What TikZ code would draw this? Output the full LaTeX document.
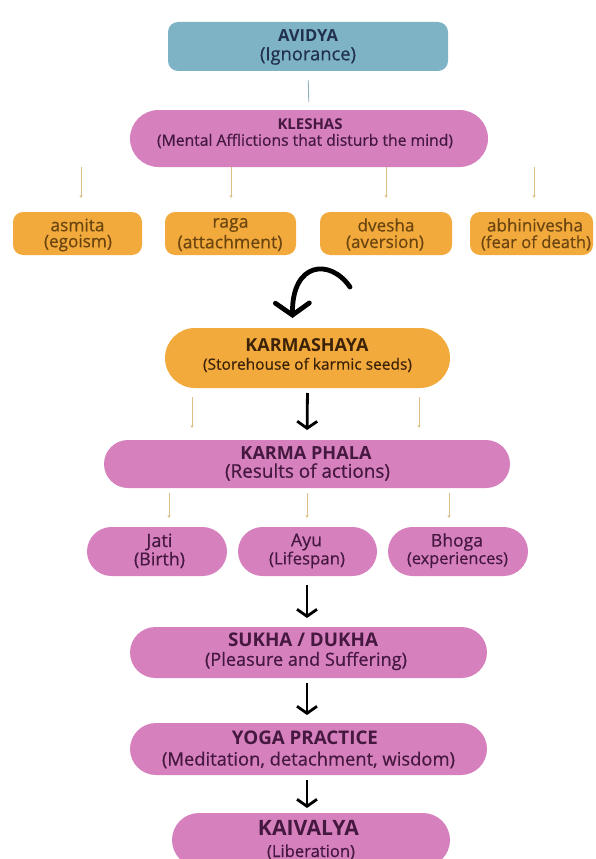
\documentclass[tikz,border=0pt]{standalone}
\usepackage{fontspec}
\setmainfont{Open Sans}
\newfontfamily\subf{Open Sans}[FakeBold=0.5]
\usetikzlibrary{arrows.meta,shapes.misc,calc}
\definecolor{tealbox}{HTML}{7DB3C5}
\definecolor{pinkbox}{HTML}{D681BE}
\definecolor{orangebox}{HTML}{F3AA3C}
\definecolor{navytxt}{HTML}{22304F}
\definecolor{purptxt}{HTML}{45183F}
\definecolor{browntxt}{HTML}{6A4510}
\definecolor{darkbrown}{HTML}{3B2208}
\definecolor{tanline}{HTML}{D9BF85}
\definecolor{blueline}{HTML}{8FB0BF}
\newcommand\fitto[2]{\resizebox{#1pt}{!}{#2}}
\begin{document}
\begin{tikzpicture}[x=1pt,y=-1pt,
  box/.style={draw=none, inner sep=0pt, outer sep=0pt},
  pill/.style={box, rounded rectangle, fill=pinkbox},
  rbox/.style={box, rectangle, rounded corners=10pt},
  lab/.style={inner sep=0pt, anchor=center},
  thinarr/.style={draw=tanline, line width=0.9pt, -{Stealth[length=3pt,width=3pt]}},
  bigarr/.style={draw=black, line width=2.8pt, -{Straight Barb[length=7pt,width=20pt]}},
]
\useasboundingbox (0,0) rectangle (595,859);
\clip (0,0) rectangle (595,859);

% boxes
\node[rbox, fill=tealbox, minimum width=280pt, minimum height=49pt] (av) at (308,46.5) {};
\node[pill, minimum width=358pt, minimum height=57pt] (kl) at (309,138.5) {};
\node[rbox, fill=orangebox, minimum width=129pt, minimum height=43pt] (as) at (77.5,233.5) {};
\node[rbox, fill=orangebox, minimum width=131pt, minimum height=43pt] (ra) at (230.5,233.5) {};
\node[rbox, fill=orangebox, minimum width=132pt, minimum height=43pt] (dv) at (386,233.5) {};
\node[rbox, fill=orangebox, minimum width=123pt, minimum height=43pt] (ab) at (531.5,233.5) {};
\node[pill, fill=orangebox, minimum width=285pt, minimum height=60pt] (ksh) at (307.5,358) {};
\node[pill, minimum width=406pt, minimum height=48pt] (kp) at (307,464) {};
\node[pill, minimum width=140pt, minimum height=49pt] (ja) at (157,551.5) {};
\node[pill, minimum width=139pt, minimum height=49pt] (ay) at (307.5,551.5) {};
\node[pill, minimum width=140pt, minimum height=49pt] (bh) at (458,551.5) {};
\node[pill, minimum width=357pt, minimum height=51pt] (su) at (308.5,652.5) {};
\node[pill, minimum width=357pt, minimum height=52pt] (yo) at (308.5,749) {};
\node[pill, minimum width=278pt, minimum height=54pt] (kv) at (311,840) {};

% texts
\node[lab, text=navytxt] (avT) at (308,36) {\fitto{60}{\bfseries AVIDYA}};
\node[lab, text=navytxt] (avS) at (308,56) {\fitto{96}{\subf (Ignorance)}};
\node[lab, text=purptxt] (klT) at (310,124) {\fitto{65}{\bfseries KLESHAS}};
\node[lab, text=purptxt] (klS) at (305,141) {\fitto{296}{\subf (Mental Afflictions that disturb the mind)}};
\node[lab, text=browntxt] (asT) at (77.5,225) {\fitto{54}{\subf asmita}};
\node[lab, text=browntxt] (asS) at (78,243) {\fitto{68}{\subf (egoism)}};
\node[lab, text=browntxt] (raT) at (230.5,225) {\fitto{36}{\subf raga}};
\node[lab, text=browntxt] (raS) at (230,243) {\fitto{105}{\subf (attachment)}};
\node[lab, text=browntxt] (dvT) at (386,225) {\fitto{57}{\subf dvesha}};
\node[lab, text=browntxt] (dvS) at (385,243) {\fitto{78}{\subf (aversion)}};
\node[lab, text=browntxt] (abT) at (535,225) {\fitto{96}{\subf abhinivesha}};
\node[lab, text=browntxt] (abS) at (536,243) {\fitto{110}{\subf (fear of death)}};
\node[lab, text=darkbrown] (kshT) at (307,345) {\fitto{123}{\bfseries KARMASHAYA}};
\node[lab, text=darkbrown] (kshS) at (307.5,365) {\fitto{209}{\subf (Storehouse of karmic seeds)}};
\node[lab, text=purptxt] (kpT) at (306,453) {\fitto{131}{\bfseries KARMA PHALA}};
\node[lab, text=purptxt] (kpS) at (307.5,472) {\fitto{165}{\subf (Results of actions)}};
\node[lab, text=purptxt] (jaT) at (159.5,542) {\fitto{26}{\subf Jati}};
\node[lab, text=purptxt] (jaS) at (159.5,560) {\fitto{51}{\subf (Birth)}};
\node[lab, text=purptxt] (ayT) at (306.5,542) {\fitto{31}{\subf Ayu}};
\node[lab, text=purptxt] (ayS) at (307,560) {\fitto{76}{\subf (Lifespan)}};
\node[lab, text=purptxt] (bhT) at (457,542) {\fitto{52}{\subf Bhoga}};
\node[lab, text=purptxt] (bhS) at (457.5,560) {\fitto{101}{\subf (experiences)}};
\node[lab, text=purptxt] (suT) at (303,640) {\fitto{150}{\bfseries SUKHA / DUKHA}};
\node[lab, text=purptxt] (suS) at (306,661) {\fitto{202}{\subf (Pleasure and Suffering)}};
\node[lab, text=purptxt] (yoT) at (305,738) {\fitto{146}{\bfseries YOGA PRACTICE}};
\node[lab, text=purptxt] (yoS) at (308.5,760) {\fitto{293}{\subf (Meditation, detachment, wisdom)}};
\node[lab, text=purptxt] (kvT) at (308.5,828) {\fitto{101}{\bfseries KAIVALYA}};
\node[lab, text=purptxt] (kvS) at (311,852) {\fitto{88}{\subf (Liberation)}};

% connector avidya -> kleshas
\draw[blueline, line width=0.9pt, shorten <=9pt, shorten >=8pt] (av.south) -- (kl.north);

% kleshas -> four afflictions
\coordinate (k1) at (81,0);
\coordinate (k2) at (231,0);
\coordinate (k3) at (386,0);
\coordinate (k4) at (534,0);
\draw[thinarr, shorten >=14pt] (kl.south -| k1) -- (as.north -| k1);
\draw[thinarr, shorten >=14pt] (kl.south -| k2) -- (ra.north -| k2);
\draw[thinarr, shorten >=14pt] (kl.south -| k3) -- (dv.north -| k3);
\draw[thinarr, shorten >=14pt] (kl.south -| k4) -- (ab.north -| k4);

% curved arrow to karmashaya
\coordinate (cs) at (350,287);
\draw[draw=black, line width=4.8pt, line cap=round,
      -{Straight Barb[length=12pt,width=34pt,line cap=round]}]
  (cs) .. controls (330,258) and (292,262) .. ($(ksh.north)+(-15,-10)$);

% karmashaya -> karma phala
\coordinate (t1) at (192,0);
\coordinate (t2) at (419,0);
\draw[thinarr, shorten <=9pt, shorten >=12pt] (ksh.south -| t1) -- (kp.north -| t1);
\draw[thinarr, shorten <=9pt, shorten >=12pt] (ksh.south -| t2) -- (kp.north -| t2);
\draw[bigarr, shorten <=5pt, shorten >=10pt] (ksh.south) -- (kp.north);

% karma phala -> three results
\coordinate (r1) at (169,0);
\coordinate (r2) at (307,0);
\coordinate (r3) at (449,0);
\draw[thinarr, shorten <=5pt, shorten >=9pt] (kp.south -| r1) -- (ja.north -| r1);
\draw[thinarr, shorten <=5pt, shorten >=9pt] (kp.south -| r2) -- (ay.north -| r2);
\draw[thinarr, shorten <=5pt, shorten >=9pt] (kp.south -| r3) -- (bh.north -| r3);

% main chain
\coordinate (mx) at (307,0);
\draw[bigarr, shorten <=9pt, shorten >=9pt] (ay.south -| mx) -- (su.north -| mx);
\draw[bigarr, shorten <=5pt, shorten >=8pt] (su.south -| mx) -- (yo.north -| mx);
\draw[bigarr, shorten <=5pt, shorten >=5pt] (yo.south -| mx) -- (kv.north -| mx);
\end{tikzpicture}
\end{document}
